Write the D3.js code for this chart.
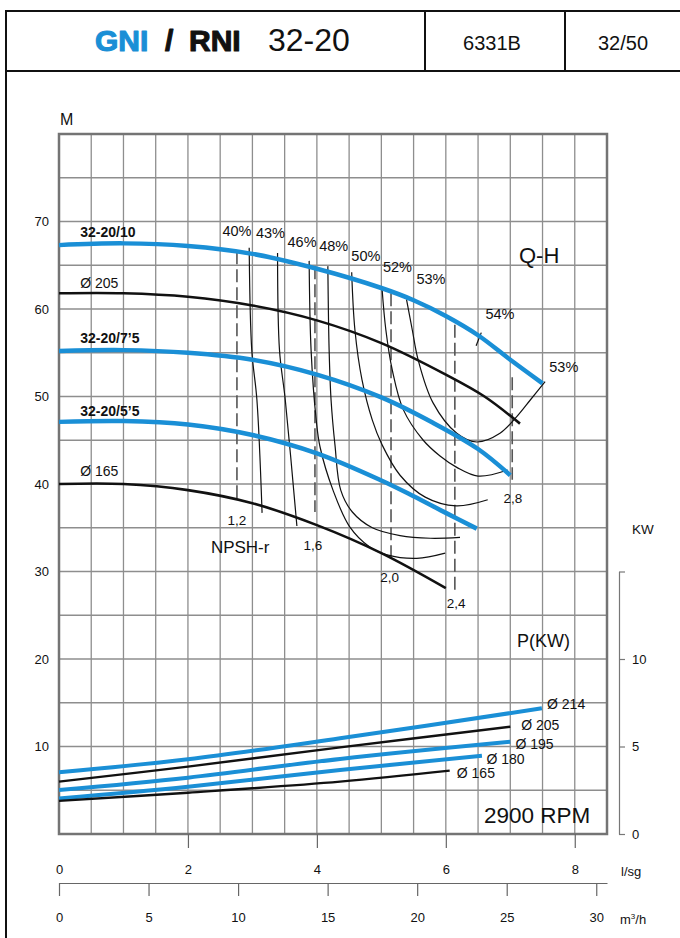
<!DOCTYPE html>
<html><head><meta charset="utf-8">
<script src="https://cdn.jsdelivr.net/npm/d3@7"></script>
<style>
body{margin:0;background:#fff}
svg{display:block}
text{font-family:"Liberation Sans",Arial,Helvetica,sans-serif;fill:#111}
</style>
</head><body>
<svg id="c" width="680" height="938"></svg>
<script>
// ---------- data ----------
const flowTicksLs = [0, 2, 4, 6, 8];
const flowTickMarksLs = [2, 4, 6, 8];
const flowTicksM3h = [0, 5, 10, 15, 20, 25, 30];
const headTicks = [10, 20, 30, 40, 50, 60, 70];
const powerTicks = [0, 5, 10, 15];

// Q (l/s), H (m)
const qh_10  = [[0,67.3],[1,67.5],[2,67.2],[3,66.3],[4,64.6],[5,62.4],[5.5,61.0],[6,59.2],[6.5,57.0],[7,54.2],[7.5,51.5]];
const qh_205 = [[0,61.8],[1,61.8],[2,61.4],[3,60.4],[4,58.7],[5,56.1],[6,52.5],[6.6,50.0],[7.15,46.9]];
const qh_7_5 = [[0,55.2],[1,55.3],[2,55.0],[3,54.2],[4,52.5],[5,49.9],[5.8,47.0],[6.5,44.0],[7.0,41.0]];
const qh_5_5 = [[0,47.1],[1,47.2],[2,46.8],[3,45.6],[4,43.5],[5,40.4],[5.5,38.6],[6,36.7],[6.48,34.9]];
const qh_165 = [[0,40.0],[1,40.0],[2,39.3],[3,37.8],[4,35.3],[5,32.1],[6,28.1]];

// iso-efficiency curves
const eff40 = [[2.95,67.0],[2.99,55.3],[3.07,49.6],[3.15,36.7]];
const eff43 = [[3.39,66.4],[3.42,55.3],[3.51,49.6],[3.69,35.2]];
const eff46 = [[3.88,65.5],[3.91,55.3],[3.99,47.3],[4.05,44.2],[4.25,39.3],[4.51,35.1],[4.82,32.8],[5.09,31.9],[5.55,31.5],[5.99,32.1]];
const eff48 = [[4.17,64.9],[4.19,55.3],[4.22,49.6],[4.28,44.5],[4.37,39.3],[4.55,36.8],[4.86,35.0],[5.29,34.1],[5.76,33.8],[6.22,33.9]];
const eff50 = [[4.54,64.2],[4.59,57.6],[4.70,51.9],[4.86,47.3],[5.01,44.5],[5.29,41.0],[5.68,38.5],[6.16,37.5],[6.65,38.2]];
const eff52 = [[5.01,62.4],[5.07,57.6],[5.17,53.0],[5.34,48.5],[5.65,45.0],[5.91,43.2],[6.17,41.9],[6.50,40.9],[6.96,41.6]];
const eff53 = [[5.39,61.1],[5.48,57.6],[5.57,54.2],[5.80,49.3],[6.17,45.8],[6.48,44.8],[6.84,45.8],[7.10,47.7],[7.31,49.6],[7.54,51.7]];
const eff54Mark = [[6.47,55.8],[6.55,57.3]];
const effLabels = ["40%","43%","46%","48%","50%","52%","53%","54%","53%"];
const effLabelQ = [2.76,3.28,3.77,4.26,4.76,5.25,5.77,6.84,7.83];
const effLabelH = [68.9,68.7,67.7,67.2,66.1,64.8,63.4,59.4,53.4];

// NPSH-r (dashed verticals)
const npshQ      = [2.76, 3.97, 5.15, 6.14, 7.03];
const npshTop    = [66.6, 64.9, 61.8, 58.2, 52.2];
const npshBottom = [38.2, 36.8, 31.3, 27.9, 40.5];
const npshLabels = ["1,2","1,6","2,0","2,4","2,8"];
const npshLabelQ = [2.76, 3.94, 5.13, 6.16, 7.04];
const npshLabelH = [35.8, 33.0, 29.3, 26.3, 38.3];

// Power P (kW)
const p_214 = [[0,3.53],[2,4.27],[4.36,5.47],[7.49,7.18]];
const p_205 = [[0,2.99],[2,3.85],[4.36,4.95],[7.0,6.13]];
const p_195 = [[0,2.51],[2,3.22],[4.36,4.29],[7.0,5.27]];
const p_180 = [[0,2.03],[2,2.70],[4.36,3.66],[6.56,4.47]];
const p_165 = [[0,1.89],[2,2.36],[4.36,2.99],[6.06,3.62]];
const powerLabels = ["Ø 214","Ø 205","Ø 195","Ø 180","Ø 165"];
const powerLabelQ = [7.57,7.17,7.08,6.63,6.17];
const powerLabelP = [7.43,6.23,5.14,4.27,3.50];

// ---------- drawing ----------
const BLUE = "#1a8fd6";
const svg = d3.select("#c");
const x  = d3.scaleLinear().domain([0, 8.5]).range([59, 607]);
const y  = d3.scaleLinear().domain([0, 80]).range([834, 134]);
const yP = d3.scaleLinear().domain([0, 15]).range([834, 571.5]);
const xM = d3.scaleLinear().domain([0, 8.5 * 3.6]).range([59, 607]);

// page frame and header
const hdr = svg.append("g").attr("stroke", "#111").attr("stroke-width", 2).attr("fill", "none");
hdr.append("line").attr("x1", 6).attr("x2", 680).attr("y1", 11).attr("y2", 11);
hdr.append("line").attr("x1", 6).attr("x2", 680).attr("y1", 71).attr("y2", 71);
hdr.append("line").attr("x1", 6).attr("x2", 6).attr("y1", 10).attr("y2", 938);
hdr.append("line").attr("x1", 425).attr("x2", 425).attr("y1", 11).attr("y2", 71);
hdr.append("line").attr("x1", 565).attr("x2", 565).attr("y1", 11).attr("y2", 71);

const heavy = (sel, col) => sel.attr("font-size", 30).attr("font-weight", "bold")
  .style("fill", col).style("stroke", col).style("stroke-width", 1.1).style("stroke-linejoin", "round");
heavy(svg.append("text").attr("x", 95).attr("y", 51).text("GNI"), BLUE);
heavy(svg.append("text").attr("x", 165).attr("y", 51).text("/"), "#111");
heavy(svg.append("text").attr("x", 189).attr("y", 51).text("RNI"), "#111");
svg.append("text").attr("x", 268).attr("y", 51).attr("font-size", 32).text("32-20");
svg.append("text").attr("x", 492).attr("y", 50).attr("font-size", 20).attr("text-anchor", "middle").text("6331B");
svg.append("text").attr("x", 623).attr("y", 50).attr("font-size", 20).attr("text-anchor", "middle").text("32/50");

// grid
const grid = svg.append("g").attr("stroke", "#8e8e8e").attr("stroke-width", 1.3);
grid.selectAll("line.v").data(d3.range(0.5, 8.5, 0.5)).join("line")
  .attr("x1", d => x(d)).attr("x2", d => x(d)).attr("y1", y(80)).attr("y2", y(0));
grid.selectAll("line.h").data(d3.range(5, 80, 5)).join("line")
  .attr("y1", d => y(d)).attr("y2", d => y(d)).attr("x1", x(0)).attr("x2", x(8.5));
svg.append("rect").attr("x", x(0)).attr("y", y(80)).attr("width", x(8.5) - x(0)).attr("height", y(0) - y(80))
  .attr("fill", "none").attr("stroke", "#747474").attr("stroke-width", 2.5);

// left axis labels
const axL = svg.append("g").attr("transform", `translate(${x(0)},0)`)
  .call(d3.axisLeft(y).tickValues(headTicks).tickSize(0).tickPadding(10));
axL.select(".domain").remove();
axL.selectAll("text").attr("font-size", 13).style("font-family", "Liberation Sans, Arial, sans-serif");
svg.append("text").attr("x", 60).attr("y", 125).attr("font-size", 16).text("M");

// bottom l/s axis
const axB1 = svg.append("g").attr("transform", `translate(0,${y(0)})`)
  .call(d3.axisBottom(x).tickValues(flowTickMarksLs).tickSize(14).tickFormat(""));
axB1.select(".domain").remove();
axB1.selectAll("line").attr("stroke", "#666").attr("stroke-width", 1.2);
const axB2 = svg.append("g").attr("transform", `translate(0,${y(0)})`)
  .call(d3.axisBottom(x).tickValues(flowTicksLs).tickSize(0).tickPadding(31));
axB2.select(".domain").remove();
axB2.selectAll("text").attr("font-size", 13).style("font-family", "Liberation Sans, Arial, sans-serif");
svg.append("text").attr("x", 621).attr("y", 876).attr("font-size", 13).text("l/sg");

// bottom m3/h axis
const axB3 = svg.append("g").attr("transform", "translate(0,883)")
  .call(d3.axisBottom(xM).tickValues(flowTicksM3h).tickSize(13).tickSizeOuter(0).tickPadding(17));
axB3.selectAll("line,path").attr("stroke", "#666").attr("stroke-width", 1.2);
axB3.selectAll("text").attr("font-size", 13).style("font-family", "Liberation Sans, Arial, sans-serif");
const mt = svg.append("text").attr("x", 620).attr("y", 924).attr("font-size", 13);
mt.append("tspan").text("m");
mt.append("tspan").attr("font-size", 8).attr("dy", -5).text("3");
mt.append("tspan").attr("dy", 5).text("/h");

// right kW axis
const axR = svg.append("g").attr("transform", "translate(619,0)")
  .call(d3.axisRight(yP).tickValues(powerTicks).tickSize(6).tickSizeOuter(0).tickPadding(7)
    .tickFormat(d => d === 15 ? "" : d));
axR.selectAll("line,path").attr("stroke", "#777").attr("stroke-width", 1.2);
axR.selectAll("text").attr("font-size", 13).style("font-family", "Liberation Sans, Arial, sans-serif");
svg.append("text").attr("x", 632).attr("y", 534).attr("font-size", 13.5).text("KW");

// NPSH dashed lines
const npsh = svg.append("g");
npsh.selectAll("line").data(npshQ).join("line")
  .attr("x1", d => x(d)).attr("x2", d => x(d))
  .attr("y1", (d, i) => y(npshTop[i])).attr("y2", (d, i) => y(npshBottom[i]))
  .attr("stroke", "#555").attr("stroke-width", 1.6).attr("stroke-dasharray", "13,5");
npsh.selectAll("text").data(npshLabels).join("text")
  .attr("x", (d, i) => x(npshLabelQ[i])).attr("y", (d, i) => y(npshLabelH[i]))
  .attr("text-anchor", "middle").attr("dominant-baseline", "central").attr("font-size", 13.5).text(d => d);
svg.append("text").attr("x", x(2.81)).attr("y", y(32.8)).attr("text-anchor", "middle")
  .attr("dominant-baseline", "central").attr("font-size", 17).text("NPSH-r");

// iso-efficiency curves
const isoLine = d3.line().x(d => x(d[0])).y(d => y(d[1])).curve(d3.curveCatmullRom.alpha(0.5));
svg.append("g").selectAll("path").data([eff40, eff43, eff46, eff48, eff50, eff52, eff53, eff54Mark]).join("path")
  .attr("d", isoLine).attr("fill", "none").attr("stroke", "#111").attr("stroke-width", 1.2);
svg.append("g").selectAll("text").data(effLabels).join("text")
  .attr("x", (d, i) => x(effLabelQ[i])).attr("y", (d, i) => y(effLabelH[i]))
  .attr("text-anchor", "middle").attr("dominant-baseline", "central").attr("font-size", 14.5).text(d => d);

// Q-H curves
const qhLine = d3.line().x(d => x(d[0])).y(d => y(d[1])).curve(d3.curveCatmullRom.alpha(0.5));
const qhSeries = [
  {d: qh_205, c: "#111", w: 2.6},
  {d: qh_165, c: "#111", w: 2.6},
  {d: qh_10,  c: BLUE,  w: 4.5},
  {d: qh_7_5, c: BLUE,  w: 4.5},
  {d: qh_5_5, c: BLUE,  w: 4.5}
];
svg.append("g").selectAll("path").data(qhSeries).join("path")
  .attr("d", s => qhLine(s.d)).attr("fill", "none").attr("stroke", s => s.c).attr("stroke-width", s => s.w);

// Q-H labels
const lbl = (q, h, t, bold) => svg.append("text").attr("x", x(q)).attr("y", y(h))
  .attr("dominant-baseline", "central").attr("font-size", 14).attr("font-weight", bold ? "bold" : "normal").text(t);
lbl(0.33, 68.8, "32-20/10", true);
lbl(0.33, 62.97, "Ø 205", false);
lbl(0.33, 56.65, "32-20/7’5", true);
lbl(0.33, 48.38, "32-20/5’5", true);
lbl(0.33, 41.52, "Ø 165", false);
svg.append("text").attr("x", 519).attr("y", y(66.1)).attr("dominant-baseline", "central").attr("font-size", 22).text("Q-H");

// power curves
const pLine = d3.line().x(d => x(d[0])).y(d => yP(d[1])).curve(d3.curveCatmullRom.alpha(0.5));
const pSeries = [
  {d: p_214, c: BLUE, w: 4},
  {d: p_205, c: "#111", w: 2.4},
  {d: p_195, c: BLUE, w: 4},
  {d: p_180, c: BLUE, w: 4},
  {d: p_165, c: "#111", w: 2.4}
];
svg.append("g").selectAll("path").data(pSeries).join("path")
  .attr("d", s => pLine(s.d)).attr("fill", "none").attr("stroke", s => s.c).attr("stroke-width", s => s.w);
svg.append("g").selectAll("text").data(powerLabels).join("text")
  .attr("x", (d, i) => x(powerLabelQ[i])).attr("y", (d, i) => yP(powerLabelP[i]))
  .attr("dominant-baseline", "central").attr("font-size", 14).text(d => d);

svg.append("text").attr("x", 517).attr("y", 641).attr("dominant-baseline", "central").attr("font-size", 18).text("P(KW)");
svg.append("text").attr("x", 484).attr("y", 815).attr("dominant-baseline", "central").attr("font-size", 22.5).text("2900 RPM");
</script>
</body></html>
